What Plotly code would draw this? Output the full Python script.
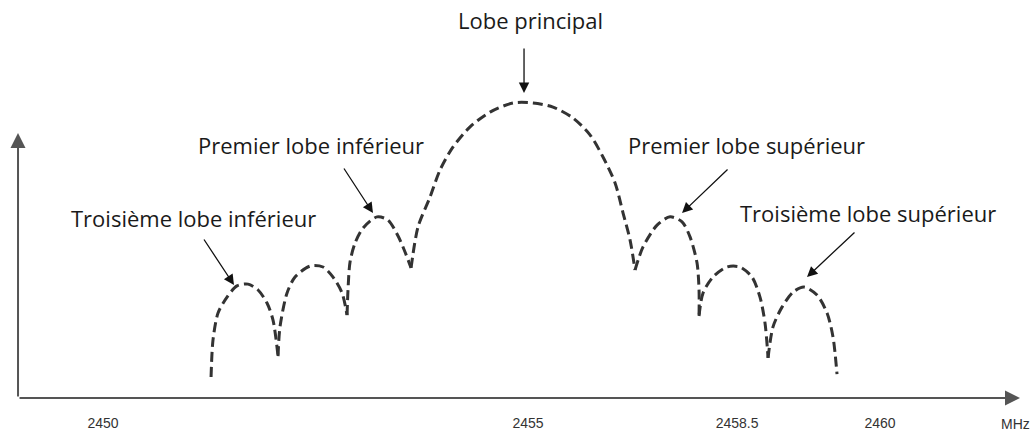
import plotly.graph_objects as go

# Spectrum lobes: frequency (MHz) and relative level (% of main-lobe peak)
lobe_l3_f = [2451.271, 2451.294, 2451.353, 2451.459, 2451.576, 2451.706, 2451.824, 2451.929, 2452.000, 2452.059]
lobe_l3_y = [7.1, 19.7, 28.8, 34.2, 38.0, 38.6, 36.6, 32.2, 26.4, 14.2]

lobe_l2_f = [2452.059, 2452.082, 2452.165, 2452.259, 2452.435, 2452.588, 2452.706, 2452.812, 2452.871]
lobe_l2_y = [14.2, 24.1, 35.6, 41.0, 44.7, 44.4, 41.0, 35.6, 28.1]

lobe_l1_f = [2452.871, 2452.882, 2452.906, 2452.965, 2453.059, 2453.224, 2453.353, 2453.471, 2453.553, 2453.624]
lobe_l1_y = [28.1, 36.6, 46.1, 52.5, 57.6, 61.4, 60.3, 54.9, 49.5, 44.1]

lobe_main_f = [2453.624, 2453.706, 2453.847, 2453.965, 2454.118, 2454.318, 2454.553, 2454.824,
               2455.059, 2455.294, 2455.529, 2455.729, 2455.882, 2456.024, 2456.118, 2456.200, 2456.259]
lobe_main_y = [44.1, 58.0, 68.1, 77.3, 85.1, 91.9, 96.9, 100.0,
               100.0, 98.6, 94.9, 89.2, 81.7, 72.9, 62.7, 53.6, 43.4]

lobe_u1_f = [2456.259, 2456.353, 2456.518, 2456.671, 2456.812, 2456.906, 2456.988, 2457.012, 2457.012]
lobe_u1_y = [43.4, 51.2, 58.6, 61.4, 59.7, 54.6, 45.8, 36.6, 27.8]

lobe_u2_f = [2457.012, 2457.059, 2457.176, 2457.341, 2457.494, 2457.635, 2457.729, 2457.788, 2457.824]
lobe_u2_y = [27.8, 35.6, 41.0, 44.4, 44.4, 41.0, 34.2, 25.4, 13.6]

lobe_u3_f = [2457.824, 2457.882, 2457.988, 2458.118, 2458.247, 2458.400, 2458.518, 2458.588, 2458.635]
lobe_u3_y = [13.6, 24.1, 30.8, 35.9, 37.6, 34.9, 28.8, 20.7, 8.1]

# Axis tick labels
tick_pos = [2450.0, 2455.0, 2457.459, 2459.141]
tick_text = ["2450", "2455", "2458.5", "2460"]
unit_text = "MHz"
unit_pos = 2460.729

# Lobe names: label anchor (f, level), arrow tip (f, level), arrow tail offset (px)
label_text = ["Lobe principal", "Premier lobe inférieur", "Troisième lobe inférieur",
              "Premier lobe supérieur", "Troisième lobe supérieur"]
label_f = [2455.024, 2452.447, 2451.059, 2457.576, 2459.0]
label_y = [128.1, 85.8, 61.0, 85.8, 62.7]
arrow_f = [2454.953, 2453.176, 2451.541, 2456.812, 2458.282]
arrow_y = [103.4, 62.7, 38.3, 62.7, 41.0]
arrow_dx = [0, -30, -31, 47, 49]
arrow_dy = [-46, -46, -47, -45, -46]

X_RANGE = [2448.788, 2460.929]
Y_RANGE = [0, 134.9]
AXIS_F0 = 2449.0
AXIS_F1 = 2460.788
AXIS_YTOP = 89.8

fig = go.Figure()

lobes = [(lobe_l3_f, lobe_l3_y), (lobe_l2_f, lobe_l2_y), (lobe_l1_f, lobe_l1_y),
         (lobe_main_f, lobe_main_y), (lobe_u1_f, lobe_u1_y), (lobe_u2_f, lobe_u2_y),
         (lobe_u3_f, lobe_u3_y)]
for f, y in lobes:
    fig.add_trace(go.Scatter(
        x=f, y=y, mode="lines",
        line=dict(color="#333333", width=3, dash="10px,5px", shape="spline", smoothing=0.8),
        hoverinfo="skip", showlegend=False, cliponaxis=False,
    ))

annotations = []
# axis arrows
annotations.append(dict(x=AXIS_F1, y=0, ax=AXIS_F0, ay=0, xref="x", yref="y", axref="x", ayref="y",
                        text="", showarrow=True, arrowhead=2, arrowsize=1.5, arrowwidth=2,
                        arrowcolor="#555555"))
annotations.append(dict(x=AXIS_F0, y=AXIS_YTOP, ax=AXIS_F0, ay=0, xref="x", yref="y", axref="x", ayref="y",
                        text="", showarrow=True, arrowhead=2, arrowsize=1.5, arrowwidth=2,
                        arrowcolor="#555555"))
# unit label below the axis end
annotations.append(dict(x=unit_pos, y=-0.066, xref="x", yref="paper", yanchor="middle",
                        text=unit_text, showarrow=False,
                        font=dict(family="Liberation Sans, Arial", size=14, color="#333333")))

for t, lf, ly in zip(label_text, label_f, label_y):
    annotations.append(dict(x=lf, y=ly, xref="x", yref="y", text=t, showarrow=False,
                            font=dict(family="Open Sans", size=22, color="#1a1a1a")))
for af, ay_, dx, dy in zip(arrow_f, arrow_y, arrow_dx, arrow_dy):
    annotations.append(dict(x=af, y=ay_, xref="x", yref="y", ax=dx, ay=dy, text="",
                            showarrow=True, arrowhead=2, arrowsize=1.6, arrowwidth=1.3,
                            arrowcolor="#111111"))

fig.update_layout(
    width=1032, height=434,
    margin=dict(l=0, r=0, t=0, b=36),
    paper_bgcolor="white", plot_bgcolor="white",
    showlegend=False,
    annotations=annotations,
    xaxis=dict(range=X_RANGE, showgrid=False, zeroline=False, showline=False,
               tickmode="array", tickvals=tick_pos, ticktext=tick_text, ticks="",
               ticklabelstandoff=15,
               tickfont=dict(family="Liberation Sans, Arial", size=14, color="#333333")),
    yaxis=dict(range=Y_RANGE, visible=False),
)

fig.write_html("out.html")
